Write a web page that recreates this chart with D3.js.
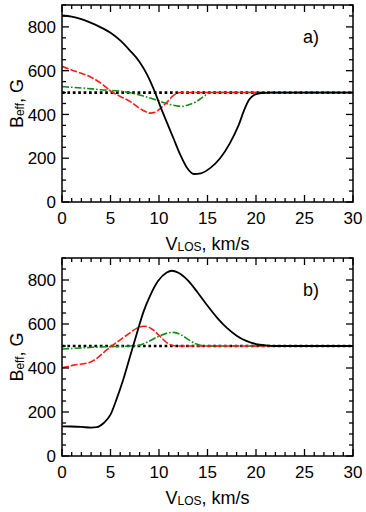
<!DOCTYPE html>
<html lang="en">
<head>
<meta charset="UTF-8">
<title>Beff vs VLOS</title>
<style>
  *{margin:0;padding:0}
  body{background:#fff;width:366px;height:512px;overflow:hidden}
  svg{display:block;font-family:'Liberation Sans',Arial,sans-serif}
</style>
<script src="https://cdn.jsdelivr.net/npm/d3@7"></script>
</head>
<body>
<svg id="chart" width="366" height="512"></svg>
<script>
/* ---------- DATA ---------- */
const xTicks = [0, 5, 10, 15, 20, 25, 30];
const yTicks = [0, 200, 400, 600, 800];
const panelLabels = ['a)', 'b)'];
const baseLevel = 500;

// panel a
const blackA = [[0,852],[1,847],[2,835],[3,818],[4,798],[5,773],[6,738],[7,692],[8,640],[8.8,580],[9.6,500],[10.2,430],[10.8,365],[11.5,290],[12.2,215],[12.9,155],[13.6,128],[14.3,131],[15.3,156],[16.3,200],[17.3,268],[18.2,350],[18.8,422],[19.3,468],[19.8,489],[20.5,498],[21.5,500],[30,500]];
const redA   = [[0,620],[1,603],[2,588],[3,570],[4,543],[5,508],[6,482],[7,460],[8,428],[8.6,413],[9.1,406],[9.6,410],[10.2,430],[10.8,455],[11.5,487],[12.2,500],[30,500]];
const greenA = [[0,527],[2,521],[4,513],[6,506],[7,500],[8,489],[9,476],[10,462],[11,447],[12,438],[12.4,437],[13,443],[13.9,460],[14.6,482],[15.3,500],[30,500]];

// panel b
const blackB = [[0,135],[1,134],[2,132],[3,129],[3.6,131],[4.3,150],[5,188],[5.6,255],[6.3,345],[7,450],[7.7,555],[8.4,655],[9.1,730],[9.9,795],[10.8,834],[11.3,842],[12,833],[13,797],[14,742],[15,683],[16,628],[17,582],[18,547],[19,523],[20,509],[21,503],[22,500],[30,500]];
const redB   = [[0,401],[1.2,413],[2.9,426],[3.6,444],[4.6,482],[5.6,515],[6.7,550],[7.7,580],[8.4,590],[8.8,588],[9.4,573],[10.3,535],[11,509],[11.8,500],[30,500]];
const greenB = [[0,486],[1.5,490],[3.2,494],[4.9,497],[7,500],[7.9,503],[8.9,520],[10,545],[11,560],[11.5,562],[12.3,550],[13,530],[13.8,510],[14.5,501],[15,500],[30,500]];

/* ---------- LAYOUT ---------- */
const svg = d3.select('#chart');
const left = 62, right = 353;
const panels = [
  {top: 5,   bottom: 202, label: panelLabels[0], black: blackA, red: redA, green: greenA},
  {top: 258, bottom: 456, label: panelLabels[1], black: blackB, red: redB, green: greenB}
];

function drawPanel(p){
  const x = d3.scaleLinear().domain([0, 30]).range([left, right]);
  const y = d3.scaleLinear().domain([0, 900]).range([p.bottom, p.top]);
  const g = svg.append('g');

  const line = d3.line().x(d => x(d[0])).y(d => y(d[1])).curve(d3.curveMonotoneX);

  // clip to the frame
  const cid = 'clip' + p.top;
  g.append('clipPath').attr('id', cid).append('rect')
    .attr('x', left).attr('y', p.top).attr('width', right - left).attr('height', p.bottom - p.top);
  const plot = g.append('g').attr('clip-path', `url(#${cid})`);

  // dotted reference line
  plot.append('path').datum([[0, baseLevel], [30, baseLevel]])
    .attr('d', line).attr('fill', 'none').attr('stroke', '#000')
    .attr('stroke-width', 2.7).attr('stroke-dasharray', '2.7,2.7');

  plot.append('path').datum(p.green).attr('d', line).attr('fill', 'none')
    .attr('stroke', '#109010').attr('stroke-width', 1.6).attr('stroke-dasharray', '7,2,1.6,2');
  plot.append('path').datum(p.red).attr('d', line).attr('fill', 'none')
    .attr('stroke', '#ff1a1a').attr('stroke-width', 1.6).attr('stroke-dasharray', '7,2');
  plot.append('path').datum(p.black).attr('d', line).attr('fill', 'none')
    .attr('stroke', '#000').attr('stroke-width', 1.8);

  // ticks (inward, on all four sides)
  const ticks = g.append('g').attr('stroke', '#000').attr('stroke-width', 1.3);
  d3.range(0, 31, 1).forEach(v => {
    const len = v % 5 === 0 ? 7 : 4;
    ticks.append('line').attr('x1', x(v)).attr('x2', x(v)).attr('y1', p.bottom).attr('y2', p.bottom - len);
    ticks.append('line').attr('x1', x(v)).attr('x2', x(v)).attr('y1', p.top).attr('y2', p.top + len);
  });
  d3.range(0, 901, 50).forEach(v => {
    const len = v % 200 === 0 ? 7 : 4;
    ticks.append('line').attr('y1', y(v)).attr('y2', y(v)).attr('x1', left).attr('x2', left + len);
    ticks.append('line').attr('y1', y(v)).attr('y2', y(v)).attr('x1', right).attr('x2', right - len);
  });

  // frame
  g.append('rect').attr('x', left).attr('y', p.top)
    .attr('width', right - left).attr('height', p.bottom - p.top)
    .attr('fill', 'none').attr('stroke', '#000').attr('stroke-width', 1.5);

  // tick labels
  g.append('g').selectAll('text').data(xTicks).join('text')
    .attr('x', d => x(d)).attr('y', p.bottom + 22)
    .attr('text-anchor', 'middle').attr('font-size', 17).text(d => d);
  g.append('g').selectAll('text').data(yTicks).join('text')
    .attr('x', left - 6).attr('y', d => y(d)).attr('dy', '0.36em')
    .attr('text-anchor', 'end').attr('font-size', 17).text(d => d);

  // axis titles
  const xt = g.append('text').attr('x', (left + right) / 2).attr('y', p.bottom + 48)
    .attr('text-anchor', 'middle').attr('font-size', 18);
  xt.append('tspan').text('V');
  xt.append('tspan').attr('font-size', 12).attr('dy', 1).text('LOS');
  xt.append('tspan').attr('dy', -1).text(', km/s');

  const yt = g.append('text')
    .attr('transform', `translate(23,${(p.top + p.bottom) / 2}) rotate(-90)`)
    .attr('text-anchor', 'middle').attr('font-size', 18);
  yt.append('tspan').text('B');
  yt.append('tspan').attr('font-size', 12).attr('dy', 1).text('eff');
  yt.append('tspan').attr('dy', -1).text(', G');

  // panel label
  g.append('text').attr('x', 303).attr('y', p.top + 38).attr('font-size', 18).text(p.label);
}

panels.forEach(drawPanel);
</script>
</body>
</html>
